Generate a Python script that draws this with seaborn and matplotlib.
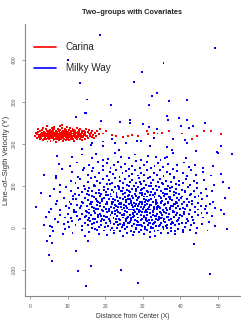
import pandas as pd
import matplotlib
matplotlib.use('Agg')
import matplotlib.pyplot as plt
from matplotlib.lines import Line2D
import seaborn as sns

# groups and colours
groups = ['Carina', 'Milky Way']
group_colors = {'Carina': '#FF0000', 'Milky Way': '#0000FF'}

# Carina: tight band around Y ~ 222
carina_core = [
    (1.3, 219), (1.6, 226), (1.8, 214), (1.9, 223),
    (2.1, 228), (2.3, 217), (2.4, 222), (2.6, 231), (2.7, 211), (2.8, 224), (2.9, 219), (2.2, 236),
    (3.0, 215), (3.1, 226), (3.2, 220), (3.3, 233), (3.4, 209), (3.5, 223), (3.6, 218), (3.7, 229),
    (3.8, 213), (3.9, 225), (3.45, 239), (3.75, 221),
    (4.0, 227), (4.1, 216), (4.2, 222), (4.3, 235), (4.35, 211), (4.4, 224), (4.5, 219), (4.6, 230),
    (4.65, 206), (4.7, 221), (4.8, 226), (4.85, 214), (4.9, 232), (4.95, 218), (4.55, 243),
    (5.0, 223), (5.05, 212), (5.1, 228), (5.2, 219), (5.25, 234), (5.3, 216), (5.4, 225), (5.45, 208),
    (5.5, 221), (5.6, 230), (5.65, 214), (5.7, 226), (5.8, 220), (5.85, 238), (5.9, 217), (5.95, 224),
    (6.0, 229), (6.05, 215), (6.1, 222), (6.2, 233), (6.25, 210), (6.3, 225), (6.4, 218), (6.45, 241),
    (6.5, 221), (6.6, 227), (6.65, 213), (6.7, 224), (6.8, 231), (6.85, 204), (6.9, 219), (6.95, 226),
    (6.35, 236),
    (7.0, 217), (7.05, 230), (7.1, 222), (7.2, 212), (7.25, 228), (7.3, 220), (7.4, 235), (7.45, 215),
    (7.5, 225), (7.6, 209), (7.65, 223), (7.7, 231), (7.8, 218), (7.85, 244), (7.9, 226), (7.95, 213),
    (7.35, 221),
    (8.0, 224), (8.05, 233), (8.1, 216), (8.2, 227), (8.25, 211), (8.3, 222), (8.4, 238), (8.45, 219),
    (8.5, 229), (8.6, 214), (8.65, 225), (8.7, 207), (8.8, 221), (8.85, 232), (8.9, 217), (8.95, 226),
    (8.55, 246),
    (9.0, 220), (9.05, 230), (9.1, 213), (9.2, 225), (9.25, 236), (9.3, 218), (9.4, 223), (9.45, 209),
    (9.5, 228), (9.6, 216), (9.65, 233), (9.7, 222), (9.8, 211), (9.85, 226), (9.9, 219), (9.95, 240),
    (10.0, 224), (10.05, 214), (10.1, 229), (10.2, 219), (10.3, 234), (10.35, 210), (10.4, 222),
    (10.5, 227), (10.6, 216), (10.65, 237), (10.7, 221), (10.8, 212), (10.85, 226), (10.9, 231), (10.95, 218),
    (11.0, 223), (11.1, 215), (11.15, 230), (11.2, 220), (11.3, 236), (11.4, 212), (11.45, 225),
    (11.5, 218), (11.6, 228), (11.7, 208), (11.75, 222), (11.8, 233), (11.9, 217), (11.95, 226),
    (12.0, 221), (12.1, 231), (12.2, 214), (12.3, 226), (12.4, 219), (12.5, 238), (12.6, 211),
    (12.7, 224), (12.75, 229), (12.8, 216), (12.9, 222), (12.95, 234),
    (13.0, 219), (13.1, 228), (13.2, 213), (13.3, 224), (13.4, 235), (13.5, 217), (13.6, 222),
    (13.7, 230), (13.8, 210), (13.9, 226), (13.95, 220),
    (14.1, 225), (14.2, 216), (14.3, 231), (14.45, 221), (14.6, 212), (14.7, 228), (14.8, 219),
    (14.9, 236), (14.5, 224),
    (15.1, 220), (15.3, 229), (15.4, 214), (15.6, 225), (15.7, 233), (15.85, 218), (15.95, 223),
    (16.2, 227), (16.4, 217), (16.6, 231), (16.8, 222), (16.95, 214),
    (17.3, 226), (17.6, 219), (17.9, 230),
]

# Carina: sparse tail to larger distances
carina_tail = [
    (18.4, 224), (18.6, 235), (19.5, 225), (20.2, 232), (21.7, 221), (22.9, 219), (24.8, 216),
    (26.0, 218), (27.2, 221), (28.6, 219), (31.0, 232), (31.3, 223), (33.0, 227), (33.9, 225),
    (35.0, 227), (37.0, 232), (40.5, 225), (43.2, 212), (44.3, 218), (46.3, 232), (48.0, 231),
    (50.7, 224),
]

# Milky Way: main cloud
milky_core = [
    # Y -20..0
    (6.2, -8), (8.7, -15), (9.4, -3), (11.3, -12), (13.8, -4), (14.5, -18),
    (15.6, -9), (17.2, -2), (18.4, -14), (19.7, -6),
    (20.5, -17), (21.4, -5), (22.3, -11), (23.1, -1), (23.9, -8), (24.7, -19),
    (25.2, -3), (25.9, -13), (26.8, -7), (27.5, -16), (28.1, -2), (28.9, -10), (29.6, -5),
    (30.4, -14), (31.1, -4), (31.8, -9), (32.6, -1), (33.3, -18), (34.0, -6), (34.8, -11),
    (35.5, -3), (36.7, -12), (37.4, -7), (38.6, -15), (39.3, -2),
    (40.8, -9), (42.5, -4), (44.1, -13), (47.2, -6),
    # Y 0..20
    (3.6, 8), (5.3, 5), (5.8, 3), (7.4, 14), (9.1, 9),
    (10.4, 2), (11.2, 16), (12.1, 7), (12.9, 19), (13.7, 4), (14.6, 12),
    (15.3, 6), (15.9, 17), (16.5, 1), (17.1, 11), (17.8, 14), (18.3, 3), (19.0, 8), (19.6, 18),
    (20.2, 12), (20.7, 4), (21.3, 17), (21.8, 1), (22.4, 9), (22.9, 15), (23.5, 6), (24.0, 19),
    (24.4, 2), (24.9, 11),
    (25.1, 7), (25.5, 16), (25.9, 3), (26.4, 12), (26.8, 18), (27.2, 5), (27.7, 10), (28.1, 1),
    (28.6, 14), (29.0, 8), (29.4, 19), (29.8, 4),
    (30.2, 11), (30.6, 2), (31.0, 17), (31.5, 6), (31.9, 13), (32.3, 0), (32.8, 9), (33.2, 15),
    (33.6, 4), (34.1, 19), (34.5, 7), (34.9, 12),
    (35.3, 3), (35.8, 14), (36.4, 8), (36.9, 18), (37.5, 1), (38.0, 11), (38.6, 6), (39.1, 16), (39.7, 9),
    (40.5, 13), (41.3, 3), (42.0, 17), (42.8, 7), (43.6, 11), (44.4, 1),
    (45.7, 9), (47.5, 15), (49.1, 4), (52.4, -2),
    # Y 20..40
    (4.2, 27), (5.1, 37), (6.6, 22), (7.9, 31), (9.3, 25),
    (10.2, 34), (10.9, 23), (11.7, 38), (12.4, 28), (13.2, 21), (13.9, 33), (14.7, 26),
    (15.2, 39), (15.7, 24), (16.3, 31), (16.8, 21), (17.4, 36), (18.0, 27), (18.5, 33), (19.1, 22), (19.7, 29),
    (20.1, 26), (20.5, 37), (20.9, 21), (21.4, 31), (21.8, 39), (22.2, 24), (22.7, 34), (23.1, 28),
    (23.6, 22), (24.0, 36), (24.4, 30), (24.8, 25),
    (25.1, 33), (25.4, 21), (25.8, 38), (26.1, 27), (26.5, 31), (26.9, 23), (27.3, 36), (27.6, 29),
    (28.0, 20), (28.4, 34), (28.7, 25), (29.1, 39), (29.5, 30), (29.8, 22),
    (30.2, 28), (30.5, 37), (30.9, 23), (31.2, 32), (31.6, 20), (32.0, 35), (32.3, 26), (32.7, 39),
    (33.1, 29), (33.4, 22), (33.8, 34), (34.2, 27), (34.5, 38), (34.9, 24),
    (35.2, 31), (35.6, 22), (36.1, 36), (36.5, 27), (37.0, 33), (37.4, 21), (37.9, 38), (38.3, 26),
    (38.8, 30), (39.2, 35), (39.7, 24),
    (40.3, 29), (41.0, 37), (41.7, 22), (42.4, 33), (43.1, 26), (43.9, 39), (44.6, 31),
    (45.9, 25), (47.0, 35), (48.3, 28), (51.6, 33),
    # Y 40..60
    (1.6, 51), (5.6, 46), (6.9, 57), (8.1, 42), (9.5, 53),
    (10.3, 48), (11.0, 58), (11.8, 43), (12.5, 54), (13.3, 47), (14.0, 59), (14.8, 41),
    (15.1, 52), (15.6, 44), (16.0, 57), (16.6, 49), (17.1, 41), (17.7, 55), (18.2, 46), (18.7, 59),
    (19.2, 43), (19.8, 51),
    (20.2, 45), (20.6, 56), (21.0, 41), (21.5, 50), (21.9, 58), (22.3, 47), (22.8, 53), (23.2, 42),
    (23.7, 57), (24.1, 49), (24.5, 44), (24.9, 55),
    (25.2, 41), (25.5, 52), (25.9, 47), (26.2, 58), (26.6, 44), (27.0, 55), (27.3, 49), (27.7, 42),
    (28.1, 57), (28.4, 46), (28.8, 53), (29.2, 40), (29.5, 50), (29.9, 56),
    (30.1, 46), (30.5, 54), (30.8, 42), (31.2, 58), (31.6, 49), (31.9, 44), (32.3, 55), (32.7, 41),
    (33.0, 51), (33.4, 57), (33.8, 45), (34.1, 53), (34.5, 48), (34.9, 59),
    (35.3, 43), (35.7, 55), (36.2, 48), (36.6, 59), (37.1, 45), (37.5, 52), (38.0, 41), (38.4, 56),
    (38.9, 47), (39.3, 53), (39.8, 44),
    (40.4, 57), (41.1, 46), (41.8, 52), (42.6, 42), (43.2, 58), (43.9, 49), (44.7, 44),
    (45.4, 53), (46.6, 45), (47.8, 58), (49.2, 48), (50.8, 42),
    # Y 60..80
    (5.3, 77), (7.2, 65), (9.0, 72),
    (10.5, 63), (11.4, 76), (12.2, 68), (13.0, 79), (13.8, 61), (14.6, 71),
    (15.3, 66), (15.8, 78), (16.4, 62), (16.9, 73), (17.5, 69), (18.0, 61), (18.6, 76), (19.1, 65), (19.7, 72),
    (20.2, 79), (20.6, 63), (21.1, 70), (21.6, 75), (22.0, 61), (22.5, 67), (23.0, 78), (23.4, 64),
    (23.9, 72), (24.3, 60), (24.8, 69),
    (25.2, 74), (25.6, 62), (26.0, 69), (26.4, 79), (26.8, 65), (27.3, 71), (27.7, 60), (28.1, 77),
    (28.5, 66), (28.9, 73), (29.3, 63), (29.8, 78),
    (30.2, 68), (30.6, 61), (31.0, 75), (31.4, 65), (31.8, 79), (32.2, 70), (32.7, 62), (33.1, 73),
    (33.5, 67), (33.9, 60), (34.3, 76), (34.8, 71),
    (35.2, 64), (35.7, 77), (36.2, 69), (36.7, 61), (37.2, 74), (37.7, 66), (38.2, 79), (38.7, 63),
    (39.2, 71), (39.7, 67),
    (40.3, 75), (41.0, 62), (41.8, 70), (42.5, 78), (43.2, 65), (43.9, 73), (44.6, 60),
    (45.8, 68), (47.1, 76), (48.6, 63), (51.9, 71),
    # Y 80..100
    (2.9, 83), (6.4, 92), (8.0, 86), (9.6, 98),
    (10.8, 89), (11.9, 81), (12.8, 96), (13.7, 85), (14.6, 93),
    (15.2, 82), (15.8, 95), (16.4, 88), (17.0, 99), (17.6, 84), (18.3, 91), (18.9, 80), (19.6, 97),
    (20.3, 86), (20.8, 94), (21.4, 81), (21.9, 90), (22.5, 98), (23.0, 84), (23.6, 92), (24.1, 87), (24.7, 96),
    (25.2, 83), (25.7, 91), (26.2, 99), (26.7, 86), (27.2, 94), (27.8, 80), (28.3, 89), (28.8, 97),
    (29.3, 84), (29.8, 92),
    (30.2, 95), (30.7, 82), (31.2, 88), (31.7, 99), (32.2, 85), (32.8, 93), (33.3, 81), (33.8, 90),
    (34.3, 97), (34.8, 87),
    (35.3, 84), (35.9, 93), (36.5, 80), (37.1, 89), (37.7, 98), (38.3, 86), (38.9, 94), (39.5, 82),
    (40.4, 91), (41.3, 85), (42.1, 97), (42.9, 81), (43.7, 88), (44.5, 95),
    (45.5, 84), (46.9, 93), (48.4, 89), (52.8, 96),
    # Y 100..120
    (6.8, 119), (8.0, 102),
    (10.9, 113), (12.1, 106), (13.3, 117), (14.4, 101),
    (15.4, 109), (16.2, 118), (17.0, 103), (17.9, 112), (18.7, 107), (19.5, 116),
    (20.4, 104), (21.1, 114), (21.8, 108), (22.6, 119), (23.3, 101), (24.0, 111), (24.7, 106),
    (25.3, 117), (25.9, 103), (26.5, 110), (27.1, 115), (27.7, 101), (28.3, 108), (28.9, 119), (29.6, 105),
    (30.3, 112), (30.9, 102), (31.5, 118), (32.1, 107), (32.7, 114), (33.4, 100), (34.0, 109), (34.6, 116),
    (35.4, 105), (36.1, 113), (36.8, 101), (37.5, 110), (38.2, 118), (38.9, 104), (39.6, 111),
    (40.6, 107), (41.6, 116), (42.5, 102), (43.5, 112), (44.4, 106),
    (46.3, 114), (48.8, 103), (51.2, 109),
    # Y 120..140
    (3.8, 127), (6.8, 124), (8.4, 140),
    (11.2, 133), (12.7, 122), (14.1, 137),
    (15.5, 126), (16.4, 135), (17.3, 121), (18.4, 130), (19.4, 138),
    (20.5, 124), (21.3, 133), (22.1, 128), (22.9, 139), (23.8, 121), (24.6, 131),
    (25.4, 136), (26.2, 123), (27.0, 129), (27.9, 138), (28.7, 125), (29.6, 132),
    (30.3, 127), (31.2, 137), (32.0, 122), (32.9, 131), (33.8, 126), (34.6, 139),
    (35.5, 124), (36.4, 134), (37.3, 128), (38.3, 121), (39.2, 136),
    (40.7, 130), (41.8, 123), (42.9, 138), (44.1, 127),
    (45.9, 133), (48.2, 125), (50.9, 128),
    # Y 140..160
    (7.6, 152), (10.7, 147), (12.6, 156), (14.3, 143),
    (15.6, 151), (16.8, 144), (18.1, 158), (19.3, 148),
    (20.4, 155), (21.4, 142), (22.3, 149), (23.3, 157), (24.3, 145),
    (25.3, 152), (26.3, 141), (27.2, 147), (28.2, 159), (29.2, 144),
    (30.2, 150), (31.2, 157), (32.1, 142), (33.1, 148), (34.1, 155),
    (35.4, 146), (36.6, 153), (37.9, 141), (39.0, 149),
    (40.9, 156), (42.4, 145), (43.8, 151), (46.0, 143), (48.7, 148),
    # Y 160..180
    (7.1, 171), (11.1, 168), (13.9, 175), (16.4, 166), (17.5, 177), (19.3, 163),
    (20.8, 164), (22.6, 178), (24.1, 170), (26.3, 166), (27.9, 175), (29.4, 162),
    (31.4, 172), (33.5, 170), (34.7, 163), (35.8, 166), (36.3, 170), (38.0, 179),
    (41.4, 167), (49.9, 179), (53.6, 176),
]

# Milky Way: extra points where the cloud is densest
milky_dense = [
    (41.7, 54), (41.4, 12), (41.2, 88), (40.9, 33), (40.6, -4), (40.2, 71), (39.9, 46), (39.6, 103),
    (39.4, 19), (39.0, 60), (38.7, 84), (38.5, -8), (38.2, 37), (37.9, 52), (37.6, 9), (37.3, 95),
    (37.1, 68), (36.8, 27), (36.5, 43), (36.3, -1), (36.0, 81), (35.8, 58), (35.5, 16), (35.2, 107),
    (34.9, 35), (34.7, 74), (34.4, 50), (34.2, 4), (33.9, 91), (33.6, 29), (33.4, 63), (33.1, -7),
    (32.9, 45), (32.6, 78), (32.4, 20), (32.1, 101), (31.9, 55), (31.6, 12), (31.4, 86), (31.1, 38),
    (30.9, 67), (30.6, -3), (30.4, 49), (30.2, 25), (29.9, 83), (29.7, 61), (29.4, 8), (29.2, 110),
    (28.9, 42), (28.7, 71), (28.4, 17), (28.2, 94), (27.9, 52), (27.7, -9), (27.4, 33), (27.2, 76),
    (26.9, 59), (26.7, 14), (26.4, 88), (26.2, 44), (25.9, 102), (25.7, 23), (25.4, 66), (25.2, -2),
    (24.9, 48), (24.7, 80), (24.4, 31), (24.2, 57), (23.9, 10), (23.7, 97), (23.4, 39), (23.2, 73),
    (22.9, 21), (22.7, 54), (22.4, -6), (22.2, 86), (21.9, 36), (21.7, 63), (21.4, 12), (21.2, 105),
    (20.9, 46), (20.7, 78), (20.4, 27), (20.2, 58), (19.9, 3), (19.7, 91), (19.4, 41), (19.2, 69),
    (18.9, 16), (18.7, 52), (18.4, 83), (18.2, 32), (17.9, -4), (17.7, 64), (17.4, 22), (17.2, 99),
    (16.9, 47), (16.6, 76), (16.4, 9), (16.1, 57), (15.8, 35), (15.5, 88), (15.3, 18),
    (37.8, 14), (37.2, 47), (36.9, 73), (36.1, 5), (35.6, 39), (34.8, 62), (34.3, 21), (33.7, 49),
    (33.2, 84), (32.8, 31), (32.2, 3), (31.7, 67), (31.3, 46), (30.8, 18), (30.3, 75), (29.8, 37),
    (29.1, 56), (28.5, 6), (28.0, 81), (27.5, 27), (27.0, 44), (26.5, 69), (26.0, 11), (25.6, 53),
    (25.0, 32), (24.5, 87), (23.8, 60), (23.1, 15), (22.6, 41), (22.0, 70), (36.4, 92), (35.0, 25),
    (33.0, 11), (31.0, 58), (29.5, 90), (27.8, 38), (26.1, 77), (24.6, 6), (23.5, 49), (38.6, 58),
    (39.8, 30), (40.7, 47), (42.3, 62), (43.4, 20), (44.8, 77), (45.6, 36), (46.8, 52), (19.0, 28),
    (17.6, 45), (16.2, 62), (14.9, 29), (13.6, 53), (12.3, 37), (11.5, 70), (10.1, 14),
]

# Milky Way: thinner region above the main cloud
milky_upper = [
    (13.9, 188), (16.2, 198), (16.6, 202), (19.5, 196), (19.3, 206), (21.7, 213), (22.6, 202),
    (23.7, 186), (25.5, 203), (28.4, 208), (29.5, 207), (31.9, 196), (33.0, 215), (36.3, 193),
    (37.7, 186), (38.1, 211), (41.2, 210), (41.7, 203), (44.1, 184), (49.6, 180), (50.8, 196),
    (12.2, 265), (14.8, 273), (18.9, 255), (23.9, 252), (26.6, 257), (26.7, 251), (30.0, 248),
    (31.7, 241), (33.7, 235), (36.3, 267), (36.6, 257), (39.6, 261), (41.7, 257), (40.2, 243),
    (42.3, 237), (43.4, 243), (46.5, 249),
]

# Milky Way: isolated points far above and below
milky_outliers = [
    (18.6, 460), (49.2, 428), (10.0, 399), (35.5, 394), (29.7, 372), (13.2, 345), (27.6, 348),
    (33.8, 321), (32.5, 315), (15.1, 306), (41.8, 305), (36.9, 302), (21.6, 292), (31.6, 294),
    (14.6, 274),
    (4.4, -30), (5.3, -19), (5.8, -35), (15.5, -30), (12.2, -54), (5.1, -64), (5.8, -78),
    (16.1, -90), (12.7, -102), (24.2, -100), (14.9, -139), (28.8, -130), (43.7, -39),
    (47.9, -109), (31.9, -21),
]

x_ticks = [0, 10, 20, 30, 40, 50]
y_ticks = [-100, 0, 100, 200, 300, 400]

rows = []
for name, pts in [('Milky Way', milky_core + milky_dense + milky_upper + milky_outliers),
                  ('Carina', carina_core + carina_tail)]:
    for x, y in pts:
        rows.append({'X': x, 'Y': y, 'group': name})
df = pd.DataFrame(rows)

sns.set_style('ticks')
plt.rcParams['font.family'] = ['Liberation Sans', 'DejaVu Sans']

fig = plt.figure(figsize=(2.53, 3.27), dpi=100)
ax = fig.add_axes([0.0988, 0.0948, 0.850, 0.832])

sns.scatterplot(data=df, x='X', y='Y', hue='group', hue_order=['Milky Way', 'Carina'],
                palette=group_colors, marker='s', s=2.0, linewidth=0, legend=False, ax=ax)

ax.set_xlim(-1.33, 55.85)
ax.set_ylim(-162, 486)
ax.set_xticks(x_ticks)
ax.set_yticks(y_ticks)
ax.set_xticklabels([str(v) for v in x_ticks], fontsize=3.5, color='#555555')
ax.set_yticklabels([str(v) for v in y_ticks], fontsize=3.6, color='#555555',
                   rotation=90, va='center')
ax.tick_params(length=2.2, width=0.5, color='#777777', pad=3.5)

sns.despine(ax=ax)
for side in ['left', 'bottom']:
    ax.spines[side].set_color('#888888')
    ax.spines[side].set_linewidth(0.8)

ax.set_xlabel('Distance from Center (X)', fontsize=4.75, color='#333333')
ax.set_ylabel('Line–of–Sigth Velocity (Y)', fontsize=5.6, color='#333333')
ax.xaxis.set_label_coords(0.5, -0.077)
ax.yaxis.set_label_coords(-0.084, 0.5)
ax.xaxis.label.set_va('center')
ax.yaxis.label.set_va('center')

fig.text(132 / 253, 1 - 12.5 / 327, 'Two–groups with Covariates', fontsize=5.3,
         fontweight='bold', ha='center', va='center', color='#222222')

handles = [Line2D([], [], color=group_colors[g], lw=1.2) for g in groups]
ax.legend(handles, groups, loc='upper left', bbox_to_anchor=(34 / 253, 1 - 42.5 / 327),
          bbox_transform=fig.transFigure, frameon=False, fontsize=7.1, handlelength=2.23,
          handletextpad=1.0, labelspacing=1.08, borderpad=0, borderaxespad=0,
          labelcolor='#222222')

fig.savefig('out.png', dpi=100)
